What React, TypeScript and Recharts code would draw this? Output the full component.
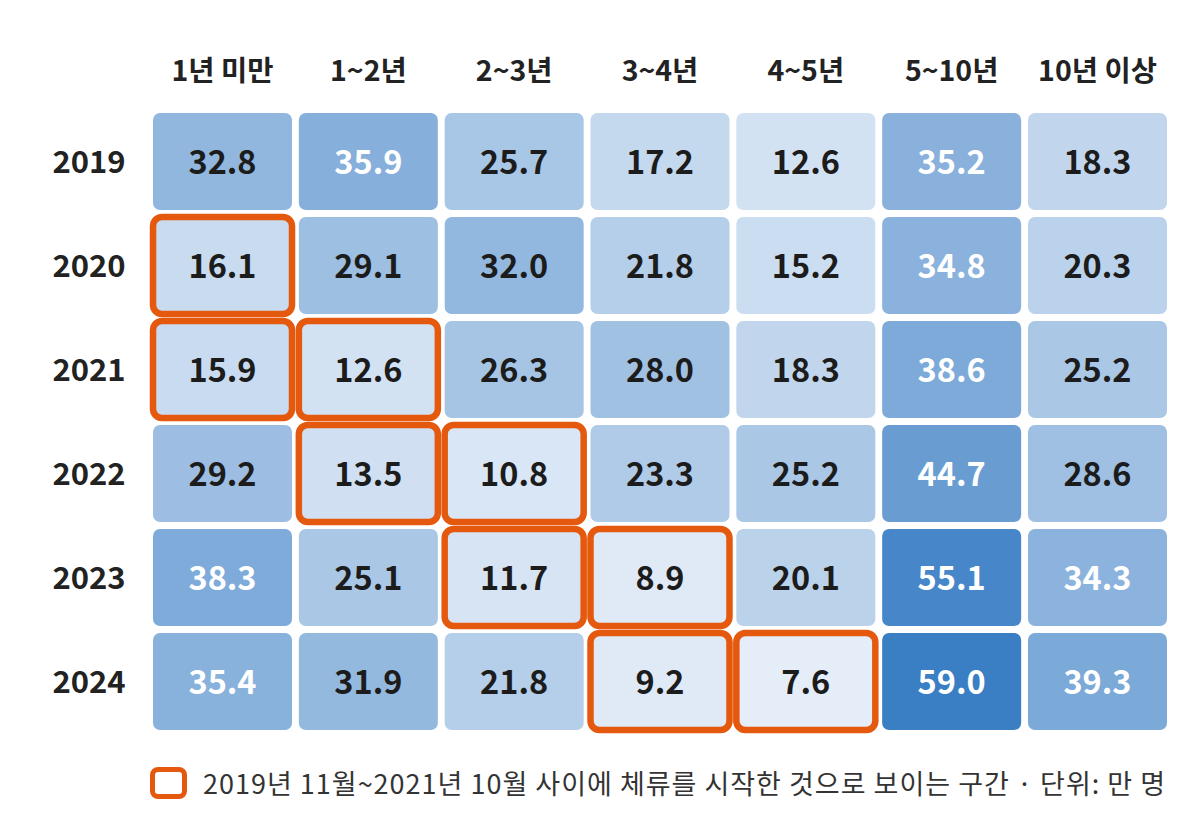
import { ScatterChart, Scatter, XAxis, YAxis } from "recharts";

const periods = ["1년 미만", "1~2년", "2~3년", "3~4년", "4~5년", "5~10년", "10년 이상"];
const years = ["2019", "2020", "2021", "2022", "2023", "2024"];

const v2019 = [32.8, 35.9, 25.7, 17.2, 12.6, 35.2, 18.3];
const v2020 = [16.1, 29.1, 32.0, 21.8, 15.2, 34.8, 20.3];
const v2021 = [15.9, 12.6, 26.3, 28.0, 18.3, 38.6, 25.2];
const v2022 = [29.2, 13.5, 10.8, 23.3, 25.2, 44.7, 28.6];
const v2023 = [38.3, 25.1, 11.7, 8.9, 20.1, 55.1, 34.3];
const v2024 = [35.4, 31.9, 21.8, 9.2, 7.6, 59.0, 39.3];

// 2019.11~2021.10 사이 체류 시작 구간
const h2019 = [0, 0, 0, 0, 0, 0, 0];
const h2020 = [1, 0, 0, 0, 0, 0, 0];
const h2021 = [1, 1, 0, 0, 0, 0, 0];
const h2022 = [0, 1, 1, 0, 0, 0, 0];
const h2023 = [0, 0, 1, 1, 0, 0, 0];
const h2024 = [0, 0, 0, 1, 1, 0, 0];

const values = [v2019, v2020, v2021, v2022, v2023, v2024];
const highlights = [h2019, h2020, h2021, h2022, h2023, h2024];

const legendText = "2019년 11월~2021년 10월 사이에 체류를 시작한 것으로 보이는 구간 · 단위: 만 명";

const FONT = "'Noto Sans CJK KR', 'Noto Sans', sans-serif";
const ORANGE = "#e5590f";
const CELL_W = 139;
const CELL_H = 97;

const all = values.flat();
const vMin = Math.min(...all);
const vMax = Math.max(...all);
const light = [228, 237, 248];
const dark = [58, 126, 196];

function colorFor(v: number) {
  const t = (v - vMin) / (vMax - vMin);
  const c = light.map((l, i) => Math.round(l + (dark[i] - l) * t));
  return `rgb(${c[0]},${c[1]},${c[2]})`;
}

const data = values.flatMap((row, r) =>
  row.map((value, c) => ({ x: c, y: r, value, hl: highlights[r][c] === 1 }))
);

function Cell(props: any) {
  const { cx, cy, payload } = props;
  const x = cx - CELL_W / 2;
  const y = cy - CELL_H / 2;
  const white = payload.value > 34;
  return (
    <g>
      <rect x={x} y={y} width={CELL_W} height={CELL_H} rx={7} fill={colorFor(payload.value)} />
      {payload.hl && (
        <rect
          x={x}
          y={y}
          width={CELL_W}
          height={CELL_H}
          rx={9}
          fill="none"
          stroke={ORANGE}
          strokeWidth={6.5}
        />
      )}
      <text
        x={cx}
        y={cy + 12}
        textAnchor="middle"
        fontFamily={FONT}
        fontWeight={700}
        fontSize={32.5}
        fill={white ? "#ffffff" : "#1c1c1c"}
      >
        {payload.value.toFixed(1)}
      </text>
    </g>
  );
}

function ColTick(props: any) {
  const { x, y, payload } = props;
  return (
    <text x={x} y={y - 29} textAnchor="middle" fontFamily={FONT} fontWeight={700} fontSize={28.5} fill="#222">
      {periods[payload.value]}
    </text>
  );
}

function RowTick(props: any) {
  const { x, y, payload } = props;
  return (
    <text x={x - 24} y={y + 11} textAnchor="end" fontFamily={FONT} fontWeight={700} fontSize={31} fill="#222">
      {years[payload.value]}
    </text>
  );
}

export default function App() {
  return (
    <div style={{ position: "relative", width: 1184, height: 808, background: "#fff" }}>
      <ScatterChart width={1184} height={808} margin={{ top: 61.5, right: 21.6, bottom: 82.5, left: 41.6 }}>
        <XAxis
          type="number"
          dataKey="x"
          orientation="top"
          domain={[-0.5, 6.5]}
          ticks={[0, 1, 2, 3, 4, 5, 6]}
          height={40}
          axisLine={false}
          tickLine={false}
          tickSize={0}
          tickMargin={0}
          tick={<ColTick />}
        />
        <YAxis
          type="number"
          dataKey="y"
          reversed
          domain={[-0.5, 5.5]}
          ticks={[0, 1, 2, 3, 4, 5]}
          width={100}
          axisLine={false}
          tickLine={false}
          tickSize={0}
          tickMargin={0}
          tick={<RowTick />}
        />
        <Scatter data={data} shape={<Cell />} isAnimationActive={false} />
      </ScatterChart>
      <div
        style={{
          position: "absolute",
          left: 142,
          top: 755,
          display: "flex",
          alignItems: "center",
          fontFamily: FONT,
          fontSize: 27,
          letterSpacing: 1,
          color: "#333",
          whiteSpace: "nowrap",
        }}
      >
        <span
          style={{
            display: "inline-block",
            width: 27,
            height: 22,
            border: `5px solid ${ORANGE}`,
            borderRadius: 8,
            marginRight: 16,
          }}
        />
        {legendText}
      </div>
    </div>
  );
}
